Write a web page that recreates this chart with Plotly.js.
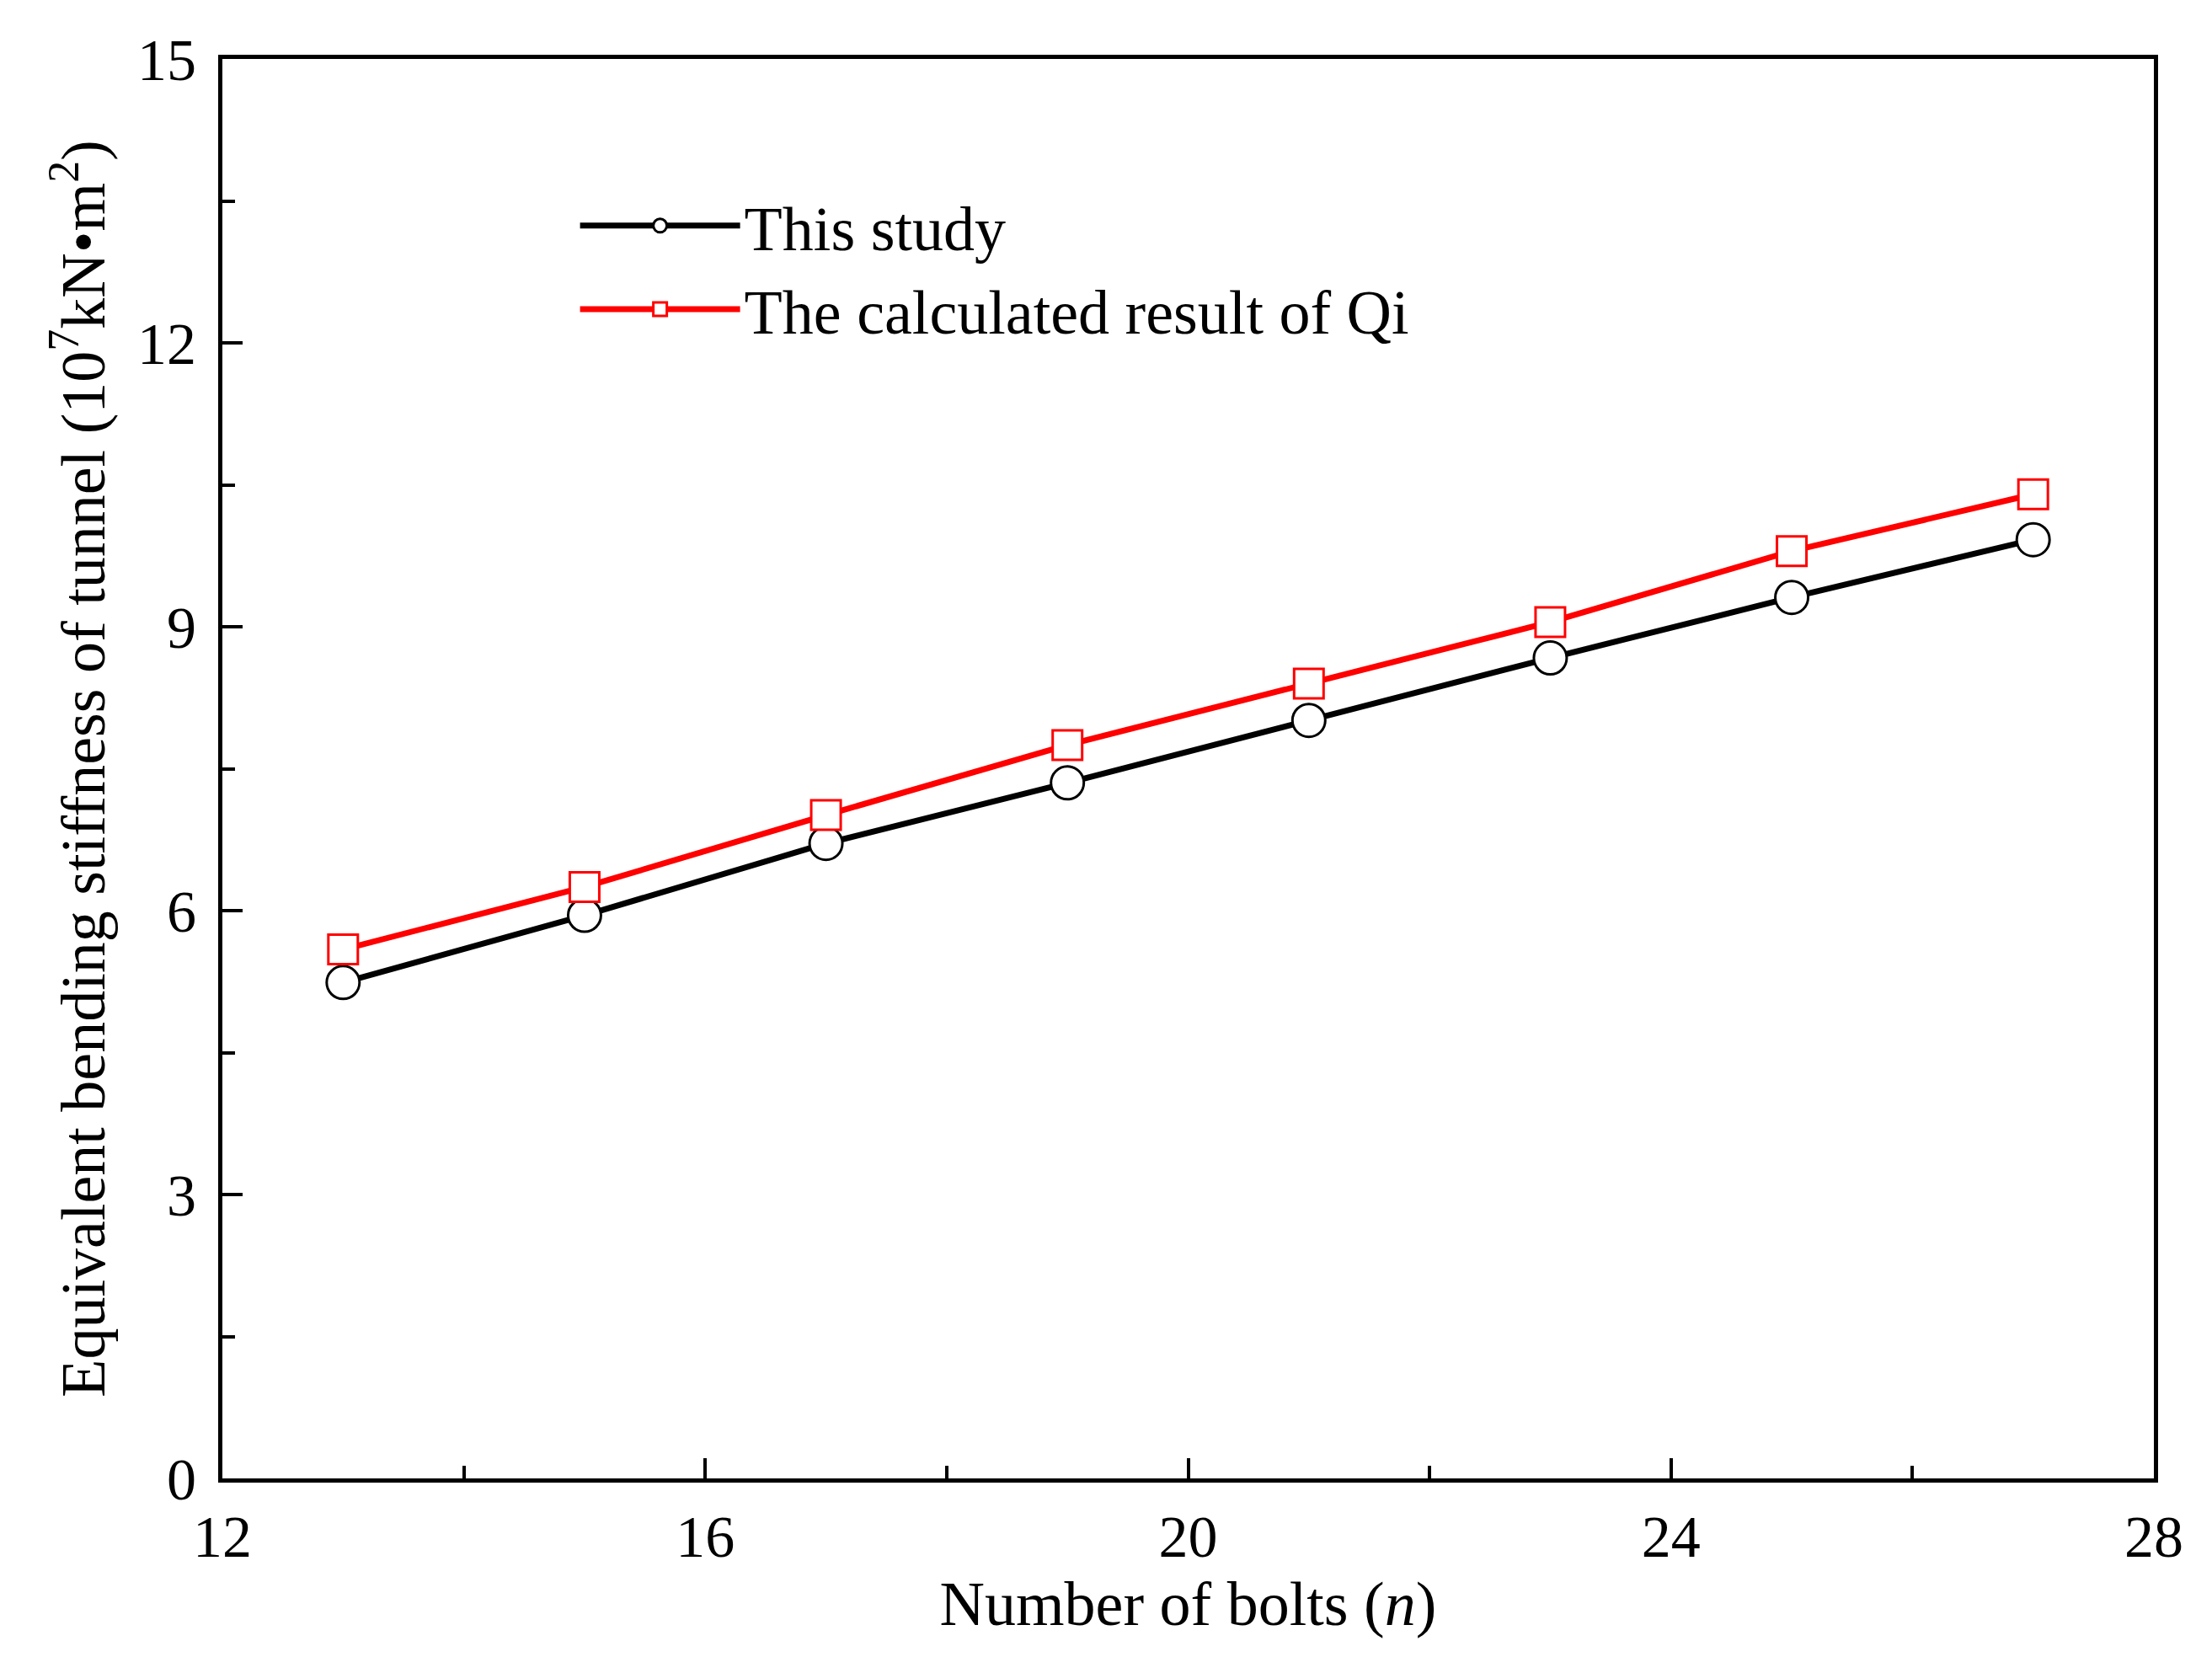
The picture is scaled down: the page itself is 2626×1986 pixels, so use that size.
<!DOCTYPE html>
<html>
<head>
<meta charset="utf-8">
<script src="https://cdn.plot.ly/plotly-3.0.1.min.js"></script>
<style>
  html, body { margin: 0; padding: 0; background: #fff; }
  #chart { width: 2626px; height: 1986px; }
</style>
</head>
<body>
<div id="chart"></div>
<script>
// number of bolts n
const bolts = [13, 15, 17, 19, 21, 23, 25, 27];
// equivalent bending stiffness (10^7 kN·m^2)
const thisStudy = [5.24, 5.95, 6.71, 7.35, 8.01, 8.67, 9.31, 9.92];
const qiResult = [5.59, 6.25, 7.01, 7.75, 8.40, 9.05, 9.80, 10.40];

const serif = 'Liberation Serif, Times New Roman, serif';

var traces = [
    {
        x: bolts, y: thisStudy,
        type: 'scatter', mode: 'lines+markers',
        name: 'This study',
        line: {color: '#000000', width: 7},
        marker: {symbol: 'circle', size: 39, color: '#ffffff',
                 line: {color: '#000000', width: 3}}
    },
    {
        x: bolts, y: qiResult,
        type: 'scatter', mode: 'lines+markers',
        name: 'The calculated result of Qi',
        line: {color: '#ff0000', width: 7},
        marker: {symbol: 'square', size: 35, color: '#ffffff',
                 line: {color: '#ff0000', width: 3}}
    }
];

var axisCommon = {
    showline: true, linecolor: '#000', linewidth: 5, mirror: true,
    showgrid: false, zeroline: false,
    ticks: 'inside', ticklen: 24, tickwidth: 4, tickcolor: '#000',
    tickfont: {family: serif, size: 70, color: '#000'}
};

var layout = {
    width: 2626, height: 1986,
    paper_bgcolor: '#ffffff', plot_bgcolor: '#ffffff',
    margin: {l: 264, r: 69, t: 70, b: 231},
    font: {family: serif, color: '#000'},
    showlegend: true,
    legend: {
        x: 0.183, y: 0.915, xanchor: 'left', yanchor: 'top',
        bgcolor: 'rgba(0,0,0,0)', borderwidth: 0,
        font: {family: serif, size: 74, color: '#000'},
        itemwidth: 190, tracegroupgap: 16
    },
    xaxis: Object.assign({}, axisCommon, {
        range: [12, 28], tick0: 12, dtick: 4,
        minor: {dtick: 2, ticks: 'inside', ticklen: 15, tickwidth: 4, tickcolor: '#000'},
        ticklabelstandoff: 4,
        title: {text: 'Number of bolts (<i>n</i>)', font: {family: serif, size: 74, color: '#000'}, standoff: 0}
    }),
    yaxis: Object.assign({}, axisCommon, {
        range: [0, 15], tick0: 0, dtick: 3,
        minor: {dtick: 1.5, ticks: 'inside', ticklen: 15, tickwidth: 4, tickcolor: '#000'},
        ticklabelstandoff: 12,
        title: {text: 'Equivalent bending stiffness of tunnel (10<sup>7</sup>kN\u2022m<sup>2</sup>)',
                font: {family: serif, size: 74, color: '#000'}, standoff: 16}
    })
};

Plotly.newPlot('chart', traces, layout, {staticPlot: true});
</script>
</body>
</html>
